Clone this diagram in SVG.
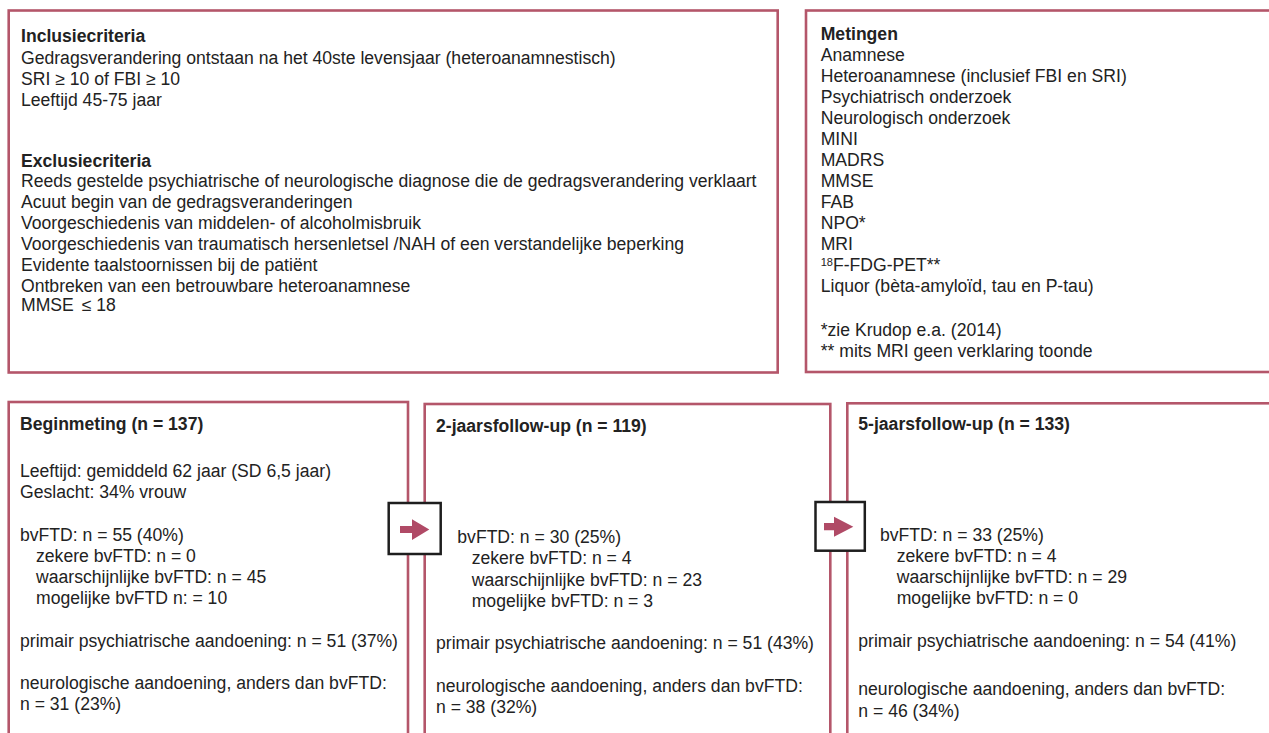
<svg xmlns="http://www.w3.org/2000/svg" width="1269" height="733" viewBox="0 0 1269 733">
<style>
.box{fill:#fff;stroke:#b4566a;stroke-width:2.6}
.abox{fill:#fff;stroke:#1e1e1e;stroke-width:2.5}
.arr{fill:#b04a66}
text{font-family:"Liberation Sans",Arial,sans-serif;font-size:17.6px;fill:#222}
.b{font-weight:bold}
.sup{font-size:11px}
</style>
<rect width="1269" height="733" fill="#fff"/>
<g id="inclusie">
<rect class="box" x="8.7" y="10.5" width="769" height="362"/>
<text class="b" x="21" y="42">Inclusiecriteria</text>
<text x="21" y="64">Gedragsverandering ontstaan na het 40ste levensjaar (heteroanamnestisch)</text>
<text x="21" y="85">SRI ≥ 10 of FBI ≥ 10</text>
<text x="21" y="106">Leeftijd 45-75 jaar</text>
<text class="b" x="21" y="167">Exclusiecriteria</text>
<text x="21" y="187">Reeds gestelde psychiatrische of neurologische diagnose die de gedragsverandering verklaart</text>
<text x="21" y="208">Acuut begin van de gedragsveranderingen</text>
<text x="21" y="229">Voorgeschiedenis van middelen- of alcoholmisbruik</text>
<text x="21" y="250">Voorgeschiedenis van traumatisch hersenletsel /NAH of een verstandelijke beperking</text>
<text x="21" y="271">Evidente taalstoornissen bij de patiënt</text>
<text x="21" y="292">Ontbreken van een betrouwbare heteroanamnese</text>
<text x="21" y="311">MMSE <tspan dx="3">≤</tspan> 18</text>
</g>
<g id="metingen">
<rect class="box" x="806" y="10.5" width="480" height="361.5"/>
<text class="b" x="820.7" y="40">Metingen</text>
<text x="820.7" y="61">Anamnese</text>
<text x="820.7" y="82">Heteroanamnese (inclusief FBI en SRI)</text>
<text x="820.7" y="103">Psychiatrisch onderzoek</text>
<text x="820.7" y="124">Neurologisch onderzoek</text>
<text x="820.7" y="145">MINI</text>
<text x="820.7" y="166">MADRS</text>
<text x="820.7" y="187">MMSE</text>
<text x="820.7" y="207.5">FAB</text>
<text x="820.7" y="228.5">NPO*</text>
<text x="820.7" y="249.5">MRI</text>
<text x="820.7" y="270.5"><tspan class="sup" dy="-5">18</tspan><tspan dy="5">F-FDG-PET**</tspan></text>
<text x="820.7" y="291.5">Liquor (bèta-amyloïd, tau en P-tau)</text>
<text x="820.7" y="336">*zie Krudop e.a. (2014)</text>
<text x="820.7" y="357">** mits MRI geen verklaring toonde</text>
</g>
<g id="beginmeting">
<rect class="box" x="8.7" y="402" width="399.3" height="345"/>
<text class="b" x="20" y="429.5">Beginmeting (n = 137)</text>
<text x="20" y="476.7">Leeftijd: gemiddeld 62 jaar (SD 6,5 jaar)</text>
<text x="20" y="497.5">Geslacht: 34% vrouw</text>
<text x="20" y="540.5">bvFTD: n = 55 (40%)</text>
<text x="36" y="561.5">zekere bvFTD: n = 0</text>
<text x="36" y="582.5">waarschijnlijke bvFTD: n = 45</text>
<text x="36" y="603.8">mogelijke bvFTD n: = 10</text>
<text x="20" y="646.5">primair psychiatrische aandoening: n = 51 (37%)</text>
<text x="20" y="689">neurologische aandoening, anders dan bvFTD:</text>
<text x="20" y="710">n = 31 (23%)</text>
</g>
<g id="followup2">
<rect class="box" x="424.7" y="404" width="405.6" height="345"/>
<text class="b" x="436" y="431.5">2-jaarsfollow-up (n = 119)</text>
<text x="457.3" y="543.3">bvFTD: n = 30 (25%)</text>
<text x="471.7" y="564.2">zekere bvFTD: n = 4</text>
<text x="471.7" y="585.5">waarschijnlijke bvFTD: n = 23</text>
<text x="471.7" y="606.5">mogelijke bvFTD: n = 3</text>
<text x="436" y="649.3">primair psychiatrische aandoening: n = 51 (43%)</text>
<text x="436" y="691.7">neurologische aandoening, anders dan bvFTD:</text>
<text x="436" y="713">n = 38 (32%)</text>
</g>
<g id="followup5">
<rect class="box" x="847.3" y="403.3" width="440" height="345"/>
<text class="b" x="858.3" y="430">5-jaarsfollow-up (n = 133)</text>
<text x="880" y="540.7">bvFTD: n = 33 (25%)</text>
<text x="896.7" y="561.7">zekere bvFTD: n = 4</text>
<text x="896.7" y="582.7">waarschijnlijke bvFTD: n = 29</text>
<text x="896.7" y="604">mogelijke bvFTD: n = 0</text>
<text x="858.3" y="646.7">primair psychiatrische aandoening: n = 54 (41%)</text>
<text x="858.3" y="694.5">neurologische aandoening, anders dan bvFTD:</text>
<text x="858.3" y="716.5">n = 46 (34%)</text>
</g>
<g id="connectors">
<g id="arrow1">
<rect class="abox" x="388.7" y="503" width="52" height="51"/>
<polygon class="arr" points="400,526 412,526 412,519.3 429.3,529.6 412,540 412,533 400,533"/>
</g>
<g id="arrow2">
<rect class="abox" x="815.5" y="502" width="49.3" height="48.7"/>
<polygon class="arr" points="824,523 834,523 834,516.7 853.3,526.7 834,536.7 834,530.3 824,530.3"/>
</g>
</g>
</svg>
